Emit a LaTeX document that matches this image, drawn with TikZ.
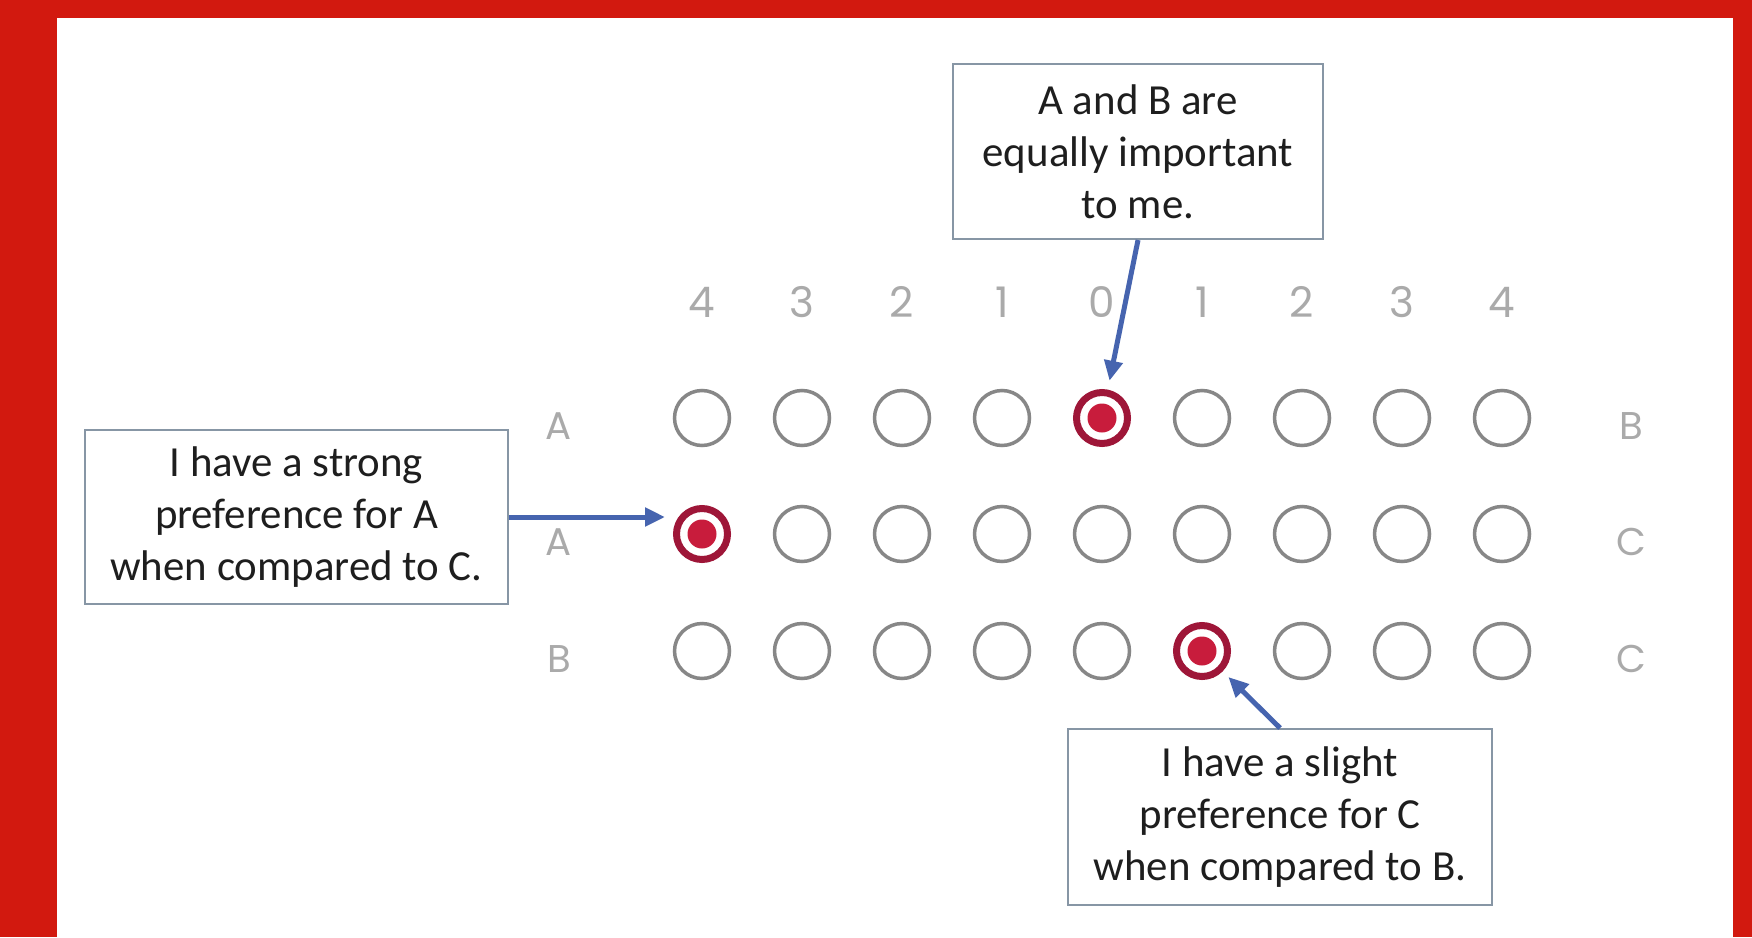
\documentclass[tikz,border=0pt]{standalone}
\usepackage{fontspec}
\setmainfont{Carlito}
\newfontfamily\ratingfont{Poppins}
\usepackage{xcolor}
\usetikzlibrary{arrows.meta, positioning, calc}

\definecolor{framered}{RGB}{210,25,15}
\definecolor{ringred}{RGB}{158,22,56}
\definecolor{dotred}{RGB}{200,28,60}
\definecolor{arrowblue}{RGB}{70,100,175}
\definecolor{boxgray}{RGB}{135,150,165}
\definecolor{labelgray}{RGB}{170,170,170}
\definecolor{circlegray}{RGB}{135,135,135}
\definecolor{notetext}{RGB}{30,30,30}

\begin{document}
\begin{tikzpicture}[
    option/.style={circle, draw=circlegray, line width=0.035cm, minimum size=0.55cm, inner sep=0pt},
    chosen/.style={circle, draw=ringred, fill=white, line width=0.07cm, minimum size=0.51cm, inner sep=0pt,
        path picture={\fill[dotred] (path picture bounding box.center) circle (0.145cm);}},
    ratinglabel/.style={font=\ratingfont\fontsize{12}{14}\selectfont, text=labelgray, inner sep=0pt},
    rowlabel/.style={font=\ratingfont\fontsize{11}{13}\selectfont, text=labelgray, inner sep=0pt},
    note/.style={rectangle, draw=boxgray, fill=white, line width=0.02cm, inner sep=0pt, align=center,
        text=notetext, font=\fontsize{12.2}{14.8}\selectfont},
    arrow/.style={-{Triangle[length=0.2cm, width=0.18cm]}, line width=0.05cm, draw=arrowblue}
]
    % Frame
    \fill[framered] (0,0) rectangle (17.52,9.37);
    \fill[white] (0.57,0) rectangle (17.33,9.19);
    \useasboundingbox (0,0) rectangle (17.52,9.37);

    % Rating scale
    \foreach \v [count=\i] in {4,3,2,1,0,1,2,3,4}
        \node[ratinglabel] (n\i) at ({6.02+\i}, 6.35) {\v};

    % Option circles
    \foreach \row/\y/\pick in {ab/5.19/5, ac/4.03/1, bc/2.86/6} {
        \foreach \i in {1,...,9} {
            \ifnum\i=\pick \def\look{chosen}\else\def\look{option}\fi
            \node[\look] (\row\i) at ({6.02+\i}, \y) {};
        }
    }

    % Row labels
    \node[rowlabel] (ab-left) at (5.59, 5.11) {A};
    \node[rowlabel] (ac-left) at (5.59, 3.95) {A};
    \node[rowlabel] (bc-left) at (5.59, 2.78) {B};
    \node[rowlabel] (ab-right) at (16.31, 5.11) {B};
    \node[rowlabel] (ac-right) at (16.31, 3.95) {C};
    \node[rowlabel] (bc-right) at (16.31, 2.78) {C};

    % Notes
    \node[note, minimum width=3.70cm, minimum height=1.75cm] (equal) at (11.38, 7.855) {A and B are\\equally important\\to me.};
    \node[note, minimum width=4.23cm, minimum height=1.74cm] (strong) at (2.965, 4.20) {I have a strong\\preference for A\\when compared to C.};
    \node[note, minimum width=4.24cm, minimum height=1.76cm] (slight) at (12.80, 1.20) {I have a slight\\preference for C\\when compared to B.};

    % Connections
    \draw[arrow, shorten >=0.09cm] (equal.south) -- (ab5);
    \draw[arrow, shorten >=0.08cm] (strong.east) -- (strong.east -| ac1.west);
    \draw[arrow, shorten >=0.08cm] (slight.north) -- (bc6);
\end{tikzpicture}
\end{document}
